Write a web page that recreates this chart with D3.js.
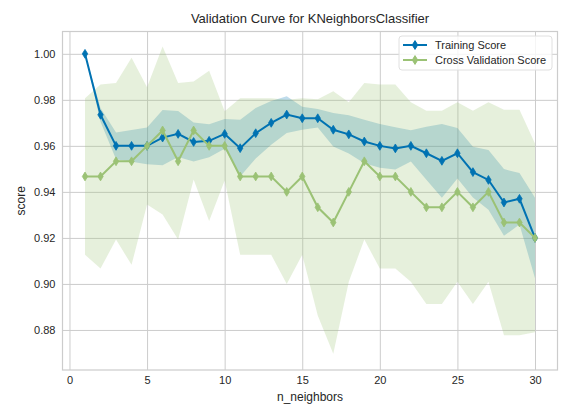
<!DOCTYPE html>
<html>
<head>
  <meta charset="utf-8"/>
  <title>Validation Curve</title>
  <script src="https://d3js.org/d3.v7.min.js"></script>
  <style>
    html, body {
      margin: 0;
      padding: 0;
      background: #fff;
      overflow: hidden;
    }
    svg {
      display: block;
      font-family: "Liberation Sans", Arial, sans-serif;
    }
    .grid line {
      stroke: #cccccc;
      stroke-width: 1;
    }
    .grid path {
      display: none;
    }
    .tick text {
      fill: #262626;
      font-size: 11px;
    }
  </style>
</head>
<body>
  <div id="chart"></div>

  <script>
    // n_neighbors values
    const neighbors = d3.range(1, 31);

    // training score: mean and std over folds
    const trainMean = [1.000, 0.9735, 0.960, 0.960, 0.960, 0.9636, 0.9652, 0.9617, 0.9622, 0.9652,
                       0.959, 0.9655, 0.970, 0.9736, 0.972, 0.972, 0.967, 0.965, 0.9619, 0.960,
                       0.9589, 0.960, 0.9568, 0.9535, 0.9568, 0.9486, 0.9452, 0.9354, 0.937, 0.920];
    const trainStd = [0, 0.003, 0.0058, 0.0069, 0.008, 0.012, 0.010, 0.0085, 0.0072, 0.0065,
                      0.0123, 0.011, 0.0095, 0.008, 0.005, 0.004, 0.0073, 0.0083, 0.0095, 0.0095,
                      0.0092, 0.0068, 0.0115, 0.016, 0.011, 0.011, 0.013, 0.0145, 0.0112, 0.0175];

    // cross validation score: mean and std
    const cvMean = [0.9467, 0.9467, 0.9533, 0.9533, 0.960, 0.9667, 0.9533, 0.9667, 0.960, 0.960,
                    0.9467, 0.9467, 0.9467, 0.940, 0.9467, 0.9333, 0.9267, 0.940, 0.9533, 0.9467,
                    0.9467, 0.940, 0.9333, 0.9333, 0.940, 0.9333, 0.940, 0.9267, 0.9267, 0.920];
    const cvStd = [0.034, 0.040, 0.034, 0.045, 0.0255, 0.0365, 0.034, 0.0213, 0.0326, 0.015,
                   0.034, 0.034, 0.034, 0.040, 0.034, 0.047, 0.057, 0.039, 0.034, 0.040,
                   0.040, 0.039, 0.042, 0.042, 0.039, 0.042, 0.039, 0.049, 0.049, 0.041];

    const xTicks = [0, 5, 10, 15, 20, 25, 30];
    const yTicks = [0.88, 0.90, 0.92, 0.94, 0.96, 0.98, 1.00];

    const seriesNames = ["Training Score", "Cross Validation Score"];
    const colors = ["#0072B2", "#9BC275"];

    const width = 582, height = 418;
    const plot = { left: 62.5, top: 31.5, right: 557.5, bottom: 370 };

    const svg = d3.select("#chart")
      .append("svg")
      .attr("width", width)
      .attr("height", height);

    const x = d3.scaleLinear()
      .domain([-0.45, 31.45])
      .range([plot.left, plot.right]);

    const y = d3.scaleLinear()
      .domain([0.8626, 1.0097])
      .range([plot.bottom, plot.top]);

    // gridlines (no tick marks, like the seaborn whitegrid style)
    svg.append("g")
      .attr("class", "grid")
      .attr("transform", `translate(0,${plot.bottom})`)
      .call(d3.axisBottom(x).tickValues(xTicks).tickSize(-(plot.bottom - plot.top)).tickFormat(""));

    svg.append("g")
      .attr("class", "grid")
      .attr("transform", `translate(${plot.left},0)`)
      .call(d3.axisLeft(y).tickValues(yTicks).tickSize(-(plot.right - plot.left)).tickFormat(""));

    // build series
    const series = [
      { name: seriesNames[0], color: colors[0], mean: trainMean, std: trainStd },
      { name: seriesNames[1], color: colors[1], mean: cvMean, std: cvStd }
    ].map(s => ({
      ...s,
      points: neighbors.map((n, i) => ({ n: n, m: s.mean[i], sd: s.std[i] }))
    }));

    const area = d3.area()
      .x(d => x(d.n))
      .y0(d => y(d.m - d.sd))
      .y1(d => y(d.m + d.sd));

    const line = d3.line()
      .x(d => x(d.n))
      .y(d => y(d.m));

    const plotG = svg.append("g");

    // all bands first (training, then CV on top), then the lines
    series.forEach(s => {
      plotG.append("path")
        .datum(s.points)
        .attr("d", area)
        .attr("fill", s.color)
        .attr("fill-opacity", 0.25);
    });

    // thin diamond marker
    const diamond = "M0,-4.4L2.7,0L0,4.4L-2.7,0Z";

    series.forEach(s => {
      plotG.append("path")
        .datum(s.points)
        .attr("d", line)
        .attr("fill", "none")
        .attr("stroke", s.color)
        .attr("stroke-width", 2);

      plotG.selectAll(null)
        .data(s.points)
        .enter().append("path")
        .attr("d", diamond)
        .attr("transform", d => `translate(${x(d.n)},${y(d.m)})`)
        .attr("fill", s.color)
        .attr("stroke", s.color)
        .attr("stroke-width", 0.8);
    });

    // frame
    svg.append("rect")
      .attr("x", plot.left)
      .attr("y", plot.top)
      .attr("width", plot.right - plot.left)
      .attr("height", plot.bottom - plot.top)
      .attr("fill", "none")
      .attr("stroke", "#cccccc")
      .attr("stroke-width", 1.2);

    // tick labels
    const xAxis = svg.append("g")
      .attr("transform", `translate(0,${plot.bottom})`)
      .call(d3.axisBottom(x).tickValues(xTicks).tickSize(0).tickPadding(6).tickFormat(d3.format("d")));
    xAxis.select(".domain").remove();

    const yAxis = svg.append("g")
      .attr("transform", `translate(${plot.left},0)`)
      .call(d3.axisLeft(y).tickValues(yTicks).tickSize(0).tickPadding(7).tickFormat(d3.format(".2f")));
    yAxis.select(".domain").remove();

    svg.selectAll(".tick text").style("font-family", "'Liberation Sans', Arial, sans-serif");

    // title and axis labels
    svg.append("text")
      .attr("x", (plot.left + plot.right) / 2)
      .attr("y", 23)
      .attr("text-anchor", "middle")
      .attr("fill", "#262626")
      .style("font-size", "13px")
      .text("Validation Curve for KNeighborsClassifier");

    svg.append("text")
      .attr("x", (plot.left + plot.right) / 2)
      .attr("y", 401)
      .attr("text-anchor", "middle")
      .attr("fill", "#262626")
      .style("font-size", "12px")
      .text("n_neighbors");

    svg.append("text")
      .attr("transform", `translate(25,${(plot.top + plot.bottom) / 2}) rotate(-90)`)
      .attr("text-anchor", "middle")
      .attr("fill", "#262626")
      .style("font-size", "12px")
      .text("score");

    // legend, top right
    const legend = svg.append("g")
      .attr("transform", "translate(399,36)");

    legend.append("rect")
      .attr("width", 153)
      .attr("height", 34)
      .attr("rx", 3)
      .attr("fill", "#ffffff")
      .attr("fill-opacity", 0.8)
      .attr("stroke", "#e0e0e0");

    const legendItem = legend.selectAll(".legendItem")
      .data(series)
      .enter().append("g")
      .attr("class", "legendItem")
      .attr("transform", (d, i) => `translate(0, ${9 + i * 15})`);

    legendItem.append("line")
      .attr("x1", 4)
      .attr("x2", 28)
      .attr("stroke", d => d.color)
      .attr("stroke-width", 2);

    legendItem.append("path")
      .attr("d", diamond)
      .attr("transform", "translate(16,0)")
      .attr("fill", d => d.color)
      .attr("stroke", d => d.color);

    legendItem.append("text")
      .attr("x", 36)
      .attr("dy", "0.35em")
      .attr("fill", "#262626")
      .style("font-size", "11px")
      .text(d => d.name);
  </script>
</body>
</html>
